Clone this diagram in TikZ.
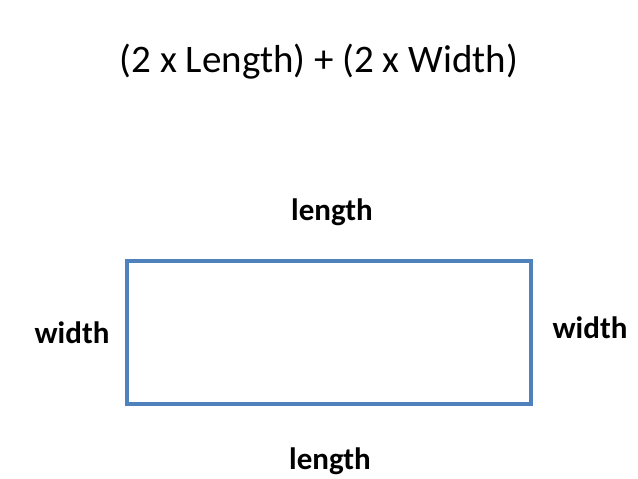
\documentclass[tikz,border=0pt]{standalone}
\usepackage{fontspec}
\setmainfont{Carlito}
\usepackage{tikz}
\definecolor{rectblue}{HTML}{4F81BD}
\tikzset{
	side/.style={font=\fontsize{31}{36}\selectfont\bfseries},
	formula/.style={font=\fontsize{39}{46}\selectfont}
}

\begin{document}
\begin{tikzpicture}[x=1pt,y=-1pt]
	\useasboundingbox (0,0) rectangle (638,479);
	\node[formula] (title) at (319,62) {(2 x Length) + (2 x Width)};
	
	%rectangle
	\coordinate (nw) at (127,261);
	\coordinate (se) at (531,404);
	\draw[rectblue,line width=3.5pt] (nw) rectangle (se);
	
	%sides
	\node[side] (top) at (332,212) {length};
	\node[side] (bottom) at (330,461) {length};
	\node[side] (left) at (72,333) {width};
	\node[side] (right) at (590,328) {width};
\end{tikzpicture}
\end{document}
